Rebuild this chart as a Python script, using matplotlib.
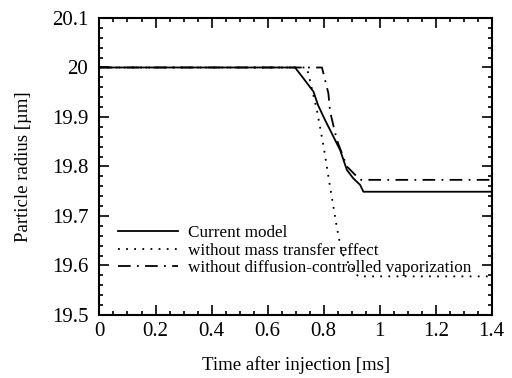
import matplotlib
matplotlib.use('Agg')
import matplotlib.pyplot as plt
from matplotlib.ticker import MultipleLocator, StrMethodFormatter
import numpy as np

plt.rcParams['font.family'] = ['Liberation Serif', 'DejaVu Serif']

# Current model
t_cur = [0.0, 0.698, 0.728, 0.764, 0.780, 0.805, 0.829, 0.859, 0.883, 0.906, 0.930, 0.942, 1.4]
r_cur = [20.0, 20.0, 19.978, 19.951, 19.924, 19.894, 19.867, 19.833, 19.793, 19.776, 19.763, 19.749, 19.749]

# without mass transfer effect
t_nmt = [0.0, 0.740, 0.776, 0.800, 0.823, 0.847, 0.865, 0.895, 0.923, 1.4]
r_nmt = [20.0, 20.0, 19.914, 19.840, 19.759, 19.678, 19.625, 19.600, 19.578, 19.578]

# without diffusion-controlled vaporization
t_ndc = [0.0, 0.794, 0.817, 0.823, 0.847, 0.883, 0.918, 0.930, 1.4]
r_ndc = [20.0, 20.0, 19.948, 19.911, 19.854, 19.800, 19.780, 19.773, 19.773]

labels = ['Current model', 'without mass transfer effect',
          'without diffusion-controlled vaporization']

fig = plt.figure(figsize=(5.12, 3.78), dpi=100)
ax = fig.add_axes([0.1943, 0.1667, 0.7661, 0.7857])

ax.plot(t_cur, r_cur, color='black', linewidth=1.3, label=labels[0])
ax.plot(t_nmt, r_nmt, color='black', linewidth=1.3, linestyle=(0, (1, 3.5)), label=labels[1])
ax.plot(t_ndc, r_ndc, color='black', linewidth=1.3, linestyle=(0, (7, 3.5, 1, 3.5)), label=labels[2])

ax.set_xlim(0, 1.4)
ax.set_ylim(19.5, 20.1)
ax.xaxis.set_major_locator(MultipleLocator(0.2))
ax.xaxis.set_minor_locator(MultipleLocator(0.05))
ax.yaxis.set_major_locator(MultipleLocator(0.1))
ax.yaxis.set_minor_locator(MultipleLocator(0.02))
ax.xaxis.set_major_formatter(StrMethodFormatter('{x:.6g}'))
ax.yaxis.set_major_formatter(StrMethodFormatter('{x:.6g}'))
ax.tick_params(which='both', direction='in', top=True, right=True, labelsize=15, width=1.2)
ax.tick_params(which='major', length=7)
ax.tick_params(axis='y', which='major', pad=8)
ax.tick_params(axis='x', which='major', pad=5)
ax.tick_params(which='minor', length=3.2)
for s in ax.spines.values():
    s.set_linewidth(1.5)

ax.set_xlabel('Time after injection [ms]', fontsize=13.5, labelpad=11)
ax.set_ylabel('Particle radius [µm]', fontsize=13.5, labelpad=14)

ax.legend(loc='lower left', bbox_to_anchor=(0.047, 0.13), frameon=False,
          fontsize=12.3, handlelength=3.5, handletextpad=0.58, labelspacing=0.1,
          borderpad=0, borderaxespad=0)

fig.savefig('out.png', dpi=100)
